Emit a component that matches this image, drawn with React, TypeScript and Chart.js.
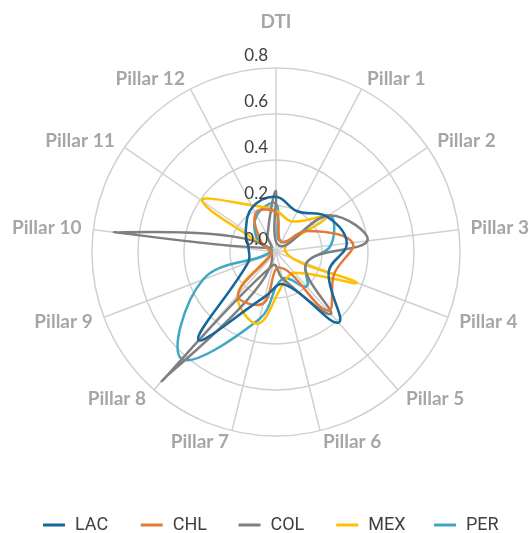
import React, { useEffect, useRef } from "react";
import { Chart, registerables } from "chart.js";

Chart.register(...registerables);

const categories = ["DTI", "Pillar 1", "Pillar 2", "Pillar 3", "Pillar 4", "Pillar 5", "Pillar 6", "Pillar 7", "Pillar 8", "Pillar 9", "Pillar 10", "Pillar 11", "Pillar 12"];

const lacValues = [0.24, 0.2, 0.27, 0.31, 0.245, 0.41, 0.145, 0.2, 0.51, 0.13, 0.12, 0.16, 0.22];
const chlValues = [0.17, 0.05, 0.16, 0.335, 0.27, 0.34, 0.07, 0.23, 0.25, 0.02, 0.02, 0.08, 0.19];
const colValues = [0.265, 0.03, 0.28, 0.4, 0.14, 0.36, 0.12, 0.06, 0.75, 0.02, 0.71, 0.03, 0.08];
const mexValues = [0.18, 0.15, 0.27, 0.04, 0.375, 0.12, 0.14, 0.32, 0.25, 0.02, 0.02, 0.39, 0.23];
const perValues = [0.21, 0.05, 0.28, 0.24, 0.14, 0.2, 0.12, 0.3, 0.62, 0.34, 0.02, 0.1, 0.18];

const seriesNames = ["LAC", "CHL", "COL", "MEX", "PER"];
const seriesColors = ["#17679a", "#e07b39", "#7f7f7f", "#ffc000", "#3fa7c1"];

const tickValues = [0, 0.2, 0.4, 0.6, 0.8];
const tickLabels = ["0.0", "0.2", "0.4", "0.6", "0.8"];

// ticks drawn above the grid line, right-aligned next to the vertical axis
const tickLabelPlugin = {
  id: "tickLabelPlugin",
  afterDatasetsDraw(chart: any) {
    const s = chart.scales.r;
    const ctx = chart.ctx;
    ctx.save();
    ctx.font = "17px Lato";
    ctx.fillStyle = "#404040";
    ctx.textAlign = "right";
    ctx.textBaseline = "middle";
    tickValues.forEach((v, i) => {
      const d = s.getDistanceFromCenterForValue(v);
      ctx.fillText(tickLabels[i], s.xCenter - 8, s.yCenter - d - 12.5);
    });
    ctx.restore();
  },
};

// category labels placed around the outer ring, vertically centred on the spoke
const pointLabelPlugin = {
  id: "pointLabelPlugin",
  afterDraw(chart: any) {
    const s = chart.scales.r;
    const ctx = chart.ctx;
    ctx.save();
    ctx.font = "bold 19px Lato";
    ctx.fillStyle = "#a6a6a6";
    ctx.textBaseline = "middle";
    const n = chart.data.labels.length;
    chart.data.labels.forEach((lab: string, i: number) => {
      const gap = i === 0 ? 46 : 12;
      const p = s.getPointPosition(i, s.drawingArea + gap);
      const sin = Math.sin((i * 2 * Math.PI) / n);
      ctx.textAlign = sin > 0.05 ? "left" : sin < -0.05 ? "right" : "center";
      ctx.fillText(lab, p.x, p.y);
    });
    ctx.restore();
  },
};

// legend row at the bottom
const legendPlugin = {
  id: "legendRow",
  afterDraw(chart: any) {
    const ctx = chart.ctx;
    const y = 525;
    const startX = 43;
    const step = 97.75;
    ctx.save();
    ctx.font = "18px Roboto";
    ctx.textBaseline = "middle";
    ctx.textAlign = "left";
    chart.data.datasets.forEach((ds: any, i: number) => {
      const x = startX + i * step;
      ctx.strokeStyle = ds.borderColor;
      ctx.lineWidth = 3;
      ctx.beginPath();
      ctx.moveTo(x, y);
      ctx.lineTo(x + 22, y);
      ctx.stroke();
      ctx.fillStyle = "#404040";
      ctx.fillText(ds.label, x + 32, y);
    });
    ctx.restore();
  },
};

export default function App() {
  const ref = useRef<HTMLCanvasElement>(null);
  useEffect(() => {
    if (!ref.current) return;
    const all = [lacValues, chlValues, colValues, mexValues, perValues];
    const chart = new Chart(ref.current, {
      type: "radar",
      data: {
        labels: categories,
        datasets: all.map((vals, i) => ({
          label: seriesNames[i],
          data: vals,
          borderColor: seriesColors[i],
          backgroundColor: seriesColors[i],
          borderWidth: 2.5,
          pointRadius: 0,
          pointHoverRadius: 0,
          fill: false,
          tension: 0.4,
        })),
      },
      options: {
        animation: false,
        responsive: true,
        maintainAspectRatio: false,
        layout: { padding: { left: 92, right: 69, top: 68, bottom: 97 } },
        plugins: {
          tooltip: { enabled: false },
          legend: { display: false },
        },
        scales: {
          r: {
            min: 0,
            max: 0.8,
            ticks: { stepSize: 0.2, display: false },
            grid: { circular: true, color: "#d0d0d0", lineWidth: 1.5 },
            angleLines: { color: "#d0d0d0", lineWidth: 1.5 },
            pointLabels: { display: false },
          },
        },
      },
      plugins: [tickLabelPlugin, pointLabelPlugin, legendPlugin],
    });
    return () => chart.destroy();
  }, []);
  return (
    <div style={{ position: "fixed", left: 0, top: 0, width: 529, height: 533, overflow: "hidden" }}>
      <canvas ref={ref} />
    </div>
  );
}
